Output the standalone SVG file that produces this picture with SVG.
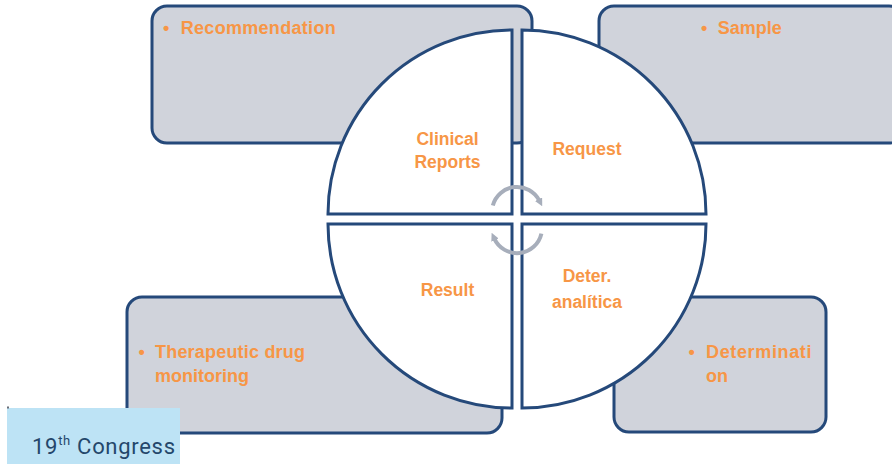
<svg xmlns="http://www.w3.org/2000/svg" width="892" height="464" viewBox="0 0 892 464">
<defs>
<style>
.box{fill:#d0d3db;stroke:#25497a;stroke-width:3}
.quad{fill:#ffffff;stroke:#25497a;stroke-width:3;stroke-linejoin:miter}
.lbl{font-family:"Liberation Sans",Arial,sans-serif;font-weight:bold;font-size:18px;fill:#f79646}
.ql{font-family:"Liberation Sans",Arial,sans-serif;font-weight:bold;font-size:17.5px;fill:#f79646;text-anchor:middle}
.cyc{fill:none;stroke:#a7aebb;stroke-width:4}
.logo{font-family:Roboto,"Liberation Sans",sans-serif;font-size:22px;fill:#24476b}
</style>
<marker id="ah" viewBox="0 0 10 10" refX="2" refY="5" markerWidth="8" markerHeight="8" markerUnits="userSpaceOnUse" orient="auto">
<path d="M0,0 L10,5 L0,10 Z" fill="#a7aebb"/>
</marker>
</defs>
<rect width="892" height="464" fill="#ffffff"/>

<g id="box-recommendation">
<rect class="box" x="152" y="6" width="380" height="137" rx="15"/>
<text class="lbl" x="163" y="34">•</text>
<text class="lbl" x="180.7" y="34" textLength="155">Recommendation</text>
</g>
<g id="box-sample">
<rect class="box" x="599" y="6" width="305" height="137" rx="15"/>
<text class="lbl" x="701" y="34">•</text>
<text class="lbl" x="717.7" y="34" textLength="64">Sample</text>
</g>
<g id="box-tdm">
<rect class="box" x="127" y="297" width="375" height="136" rx="15"/>
<text class="lbl" x="138.5" y="358">•</text>
<text class="lbl" x="155" y="358" textLength="150">Therapeutic drug</text>
<text class="lbl" x="155" y="382">monitoring</text>
</g>
<g id="box-determination">
<rect class="box" x="614" y="297" width="212" height="135" rx="15"/>
<text class="lbl" x="688.5" y="358">•</text>
<text class="lbl" x="706" y="358" textLength="105.5">Determinati</text>
<text class="lbl" x="706" y="382">on</text>
</g>

<g id="quad-clinical">
<path class="quad" d="M512,214 L328,214 A184,184 0 0 1 512,30 Z"/>
<text class="ql" x="447.5" y="145">Clinical</text>
<text class="ql" x="447.5" y="168">Reports</text>
</g>
<g id="quad-request">
<path class="quad" d="M522,214 L522,30 A184,184 0 0 1 706,214 Z"/>
<text class="ql" x="587" y="155">Request</text>
</g>
<g id="quad-deter">
<path class="quad" d="M522,224 L706,224 A184,184 0 0 1 522,408 Z"/>
<text class="ql" x="587" y="282">Deter.</text>
<text class="ql" x="587" y="307.5">analítica</text>
</g>
<g id="quad-result">
<path class="quad" d="M512,224 L512,408 A184,184 0 0 1 328,224 Z"/>
<text class="ql" x="447.5" y="296">Result</text>
</g>

<g id="connectors">
<path class="cyc" d="M492.85,205.5 A25,25 0 0 1 539.3,200.65" marker-end="url(#ah)"/>
<path class="cyc" d="M541.4,233.6 A25,25 0 0 1 494.3,238.6" marker-end="url(#ah)"/>
</g>

<g id="logo">
<rect x="7" y="408" width="173" height="56" fill="#bde3f5"/>
<rect x="7" y="406.5" width="2" height="2" fill="#6a6f78"/>
<text class="logo" x="32" y="453.5" textLength="143">19<tspan font-size="13" dy="-9">th</tspan><tspan dy="9"> Congress</tspan></text>
</g>
</svg>
